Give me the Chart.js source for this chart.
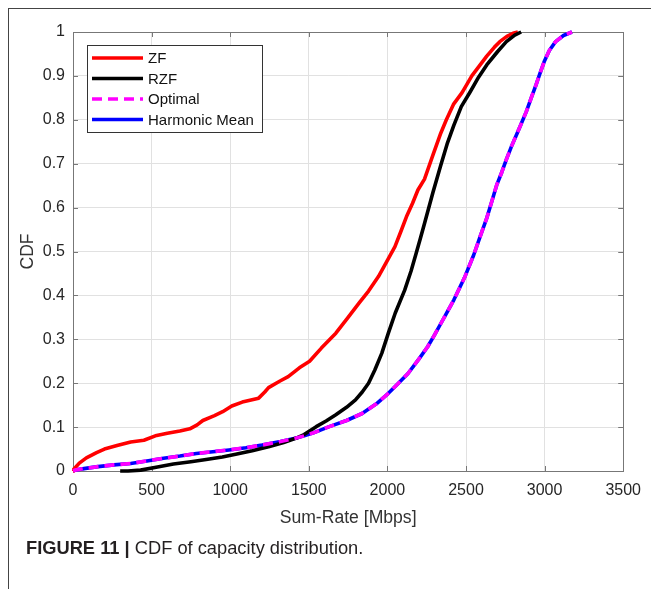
<!DOCTYPE html>
<html>
<head>
<meta charset="utf-8">
<script src="https://cdn.jsdelivr.net/npm/chart.js@4/dist/chart.umd.min.js"></script>
<style>
  html, body { margin: 0; padding: 0; background: #fff; }
  #wrap { position: relative; width: 651px; height: 589px; overflow: hidden; }
  #frame { position: absolute; left: 8px; top: 8px; width: 660px; height: 600px;
           border-top: 1px solid #444; border-left: 1px solid #444; }
  #plot { position: absolute; left: 0; top: 0; }
  #caption { position: absolute; left: 26px; top: 537px; white-space: nowrap;
             font-family: "Liberation Sans", Arial, sans-serif; font-size: 18.3px; color: #231f20; }
</style>
</head>
<body>
<div id="wrap">
  <div id="frame"></div>
  <canvas id="plot" width="651" height="589"></canvas>
  <div id="caption"><b>FIGURE 11 |</b> CDF of capacity distribution.</div>
</div>
<script>
// Empirical CDF curves of the sum-rate (Mbps) for each precoder
const zfRate = [0, 5, 40, 85, 150, 200, 280, 367, 451, 532, 600, 680, 743, 790, 826, 900, 952, 1010, 1077, 1181, 1220, 1244, 1317, 1369, 1440, 1505, 1580, 1672, 1750, 1818, 1880, 1943, 2000, 2048, 2085, 2121, 2160, 2194, 2236, 2290, 2340, 2375, 2420, 2475, 2537, 2590, 2632, 2680, 2715, 2760, 2799, 2830];
const zfCdf  = [0, 0.004, 0.018, 0.030, 0.042, 0.050, 0.058, 0.066, 0.070, 0.081, 0.086, 0.091, 0.096, 0.105, 0.115, 0.126, 0.135, 0.148, 0.157, 0.166, 0.180, 0.190, 0.205, 0.215, 0.235, 0.250, 0.280, 0.314, 0.350, 0.382, 0.410, 0.443, 0.480, 0.511, 0.545, 0.579, 0.610, 0.640, 0.665, 0.720, 0.770, 0.800, 0.835, 0.862, 0.900, 0.925, 0.945, 0.965, 0.978, 0.990, 0.997, 1.0];

const rzfRate = [300, 350, 430, 520, 639, 750, 847, 950, 1035, 1140, 1244, 1340, 1421, 1470, 1547, 1610, 1672, 1740, 1797, 1840, 1880, 1920, 1964, 2006, 2050, 2110, 2150, 2183, 2210, 2236, 2290, 2340, 2380, 2423, 2470, 2527, 2580, 2632, 2700, 2757, 2810, 2851];
const rzfCdf  = [0, 0, 0.002, 0.008, 0.016, 0.021, 0.026, 0.032, 0.038, 0.046, 0.055, 0.065, 0.075, 0.083, 0.101, 0.114, 0.128, 0.145, 0.162, 0.180, 0.200, 0.230, 0.268, 0.314, 0.360, 0.412, 0.455, 0.496, 0.530, 0.564, 0.635, 0.697, 0.745, 0.788, 0.830, 0.864, 0.897, 0.925, 0.955, 0.978, 0.993, 1.0];

const optRate = [0, 12, 80, 159, 260, 367, 470, 576, 680, 785, 890, 993, 1100, 1202, 1320, 1421, 1470, 1530, 1630, 1740, 1839, 1930, 2006, 2070, 2131, 2200, 2256, 2300, 2340, 2380, 2423, 2490, 2549, 2591, 2632, 2665, 2695, 2727, 2757, 2790, 2820, 2850, 2883, 2915, 2945, 2970, 2997, 3030, 3070, 3120, 3174];
const optCdf  = [0, 0.002, 0.006, 0.010, 0.014, 0.017, 0.023, 0.029, 0.034, 0.040, 0.044, 0.048, 0.053, 0.059, 0.067, 0.075, 0.080, 0.087, 0.101, 0.115, 0.131, 0.153, 0.177, 0.200, 0.222, 0.255, 0.283, 0.310, 0.336, 0.362, 0.390, 0.440, 0.492, 0.535, 0.576, 0.615, 0.651, 0.680, 0.710, 0.740, 0.765, 0.790, 0.818, 0.850, 0.879, 0.905, 0.932, 0.958, 0.978, 0.992, 1.0];

const hmRate = [0, 12, 80, 159, 260, 367, 470, 576, 680, 785, 890, 993, 1100, 1202, 1320, 1421, 1470, 1530, 1630, 1740, 1839, 1930, 2006, 2070, 2131, 2200, 2256, 2300, 2340, 2380, 2423, 2490, 2549, 2591, 2632, 2665, 2695, 2727, 2757, 2790, 2820, 2850, 2883, 2915, 2945, 2970, 2997, 3030, 3070, 3120, 3174];
const hmCdf  = [0, 0.002, 0.006, 0.010, 0.014, 0.017, 0.023, 0.029, 0.034, 0.040, 0.044, 0.048, 0.053, 0.059, 0.067, 0.075, 0.080, 0.087, 0.101, 0.115, 0.131, 0.153, 0.177, 0.200, 0.222, 0.255, 0.283, 0.310, 0.336, 0.362, 0.390, 0.440, 0.492, 0.535, 0.576, 0.615, 0.651, 0.680, 0.710, 0.740, 0.765, 0.790, 0.818, 0.850, 0.879, 0.905, 0.932, 0.958, 0.978, 0.992, 1.0];

const seriesNames = ['ZF', 'RZF', 'Optimal', 'Harmonic Mean'];

const xTickValues = [0, 500, 1000, 1500, 2000, 2500, 3000, 3500];
const xTickLabels = ['0', '500', '1000', '1500', '2000', '2500', '3000', '3500'];
const yTickValues = [0, 0.1, 0.2, 0.3, 0.4, 0.5, 0.6, 0.7, 0.8, 0.9, 1];
const yTickLabels = ['0', '0.1', '0.2', '0.3', '0.4', '0.5', '0.6', '0.7', '0.8', '0.9', '1'];

const FONT = '"Liberation Sans", Arial, sans-serif';
const pts = (xs, ys) => xs.map((x, i) => ({ x: x, y: ys[i] }));

function lineSet(label, xs, ys, color, dash, order) {
  return {
    label: label,
    data: pts(xs, ys),
    borderColor: color,
    backgroundColor: color,
    borderWidth: 3.6,
    borderDash: dash,
    borderCapStyle: 'butt',
    borderJoinStyle: 'round',
    pointRadius: 0,
    tension: 0,
    fill: false,
    clip: 5,
    order: order
  };
}

// Box around the axes with inward tick marks on all four sides
const axesBox = {
  id: 'axesBox',
  beforeDatasetsDraw(chart) {
    const { ctx, chartArea: a, scales } = chart;
    const len = 5;
    ctx.save();
    ctx.strokeStyle = '#777';
    ctx.lineWidth = 1;
    ctx.beginPath();
    scales.x.ticks.forEach(t => {
      const px = Math.round(scales.x.getPixelForValue(t.value)) + 0.5;
      ctx.moveTo(px, a.bottom); ctx.lineTo(px, a.bottom - len);
      ctx.moveTo(px, a.top); ctx.lineTo(px, a.top + len);
    });
    scales.y.ticks.forEach(t => {
      const py = Math.round(scales.y.getPixelForValue(t.value)) + 0.5;
      ctx.moveTo(a.left, py); ctx.lineTo(a.left + len, py);
      ctx.moveTo(a.right, py); ctx.lineTo(a.right - len, py);
    });
    ctx.stroke();
    ctx.strokeRect(Math.round(a.left) + 0.5, Math.round(a.top) + 0.5,
                   Math.round(a.right - a.left), Math.round(a.bottom - a.top));
    ctx.restore();
  }
};

// Boxed legend in the upper-left corner of the axes
const boxLegend = {
  id: 'boxLegend',
  afterDatasetsDraw(chart) {
    const { ctx } = chart;
    const x0 = 87, y0 = 45, w = 175, h = 87;
    ctx.save();
    ctx.fillStyle = '#fff';
    ctx.fillRect(x0, y0, w, h);
    ctx.strokeStyle = '#333';
    ctx.lineWidth = 1;
    ctx.strokeRect(x0 + 0.5, y0 + 0.5, w, h);
    ctx.font = '15px ' + FONT;
    ctx.textBaseline = 'middle';
    ctx.textAlign = 'left';
    chart.data.datasets.forEach((ds, i) => {
      const yy = 58 + i * 20.5;
      ctx.strokeStyle = ds.borderColor;
      ctx.lineWidth = ds.borderWidth;
      ctx.setLineDash(ds.borderDash || []);
      ctx.beginPath();
      ctx.moveTo(92, yy); ctx.lineTo(143, yy);
      ctx.stroke();
      ctx.setLineDash([]);
      ctx.fillStyle = '#111';
      ctx.fillText(ds.label, 148, yy + 1);
    });
    ctx.restore();
  }
};

new Chart(document.getElementById('plot'), {
  type: 'line',
  data: {
    datasets: [
      lineSet(seriesNames[0], zfRate, zfCdf, '#ff0000', [], 2),
      lineSet(seriesNames[1], rzfRate, rzfCdf, '#000000', [], 1),
      lineSet(seriesNames[2], optRate, optCdf, '#ff00ff', [10, 6], 0),
      lineSet(seriesNames[3], hmRate, hmCdf, '#0000ff', [], 3)
    ]
  },
  options: {
    responsive: false,
    maintainAspectRatio: false,
    animation: false,
    events: [],
    layout: { padding: { left: 17.4, right: 19, top: 32, bottom: 60.4 } },
    plugins: { legend: { display: false }, tooltip: { enabled: false } },
    scales: {
      x: {
        type: 'linear',
        min: 0, max: 3500,
        afterBuildTicks: s => { s.ticks = xTickValues.map(v => ({ value: v })); },
        afterFit: s => { s.height = 57.6; },
        ticks: {
          padding: 10,
          autoSkip: false,
          maxRotation: 0,
          color: '#262626',
          font: { family: FONT, size: 16 },
          callback: (v, i) => xTickLabels[i]
        },
        grid: { color: '#e1e1e1', lineWidth: 1, drawTicks: false },
        border: { display: false },
        title: {
          display: true, text: 'Sum-Rate [Mbps]', color: '#333',
          font: { family: FONT, size: 17.6 }, padding: { top: 0, bottom: 0 }
        }
      },
      y: {
        type: 'linear',
        min: 0, max: 1,
        afterBuildTicks: s => { s.ticks = yTickValues.map(v => ({ value: v })); },
        afterFit: s => { s.width = 55.6; },
        ticks: {
          padding: 8,
          autoSkip: false,
          color: '#262626',
          font: { family: FONT, size: 16 },
          callback: (v, i) => yTickLabels[i]
        },
        grid: { color: '#e1e1e1', lineWidth: 1, drawTicks: false },
        border: { display: false },
        title: {
          display: true, text: 'CDF', color: '#333',
          font: { family: FONT, size: 17.6 }, padding: { top: 0, bottom: 0 }
        }
      }
    }
  },
  plugins: [axesBox, boxLegend]
});
</script>
</body>
</html>
